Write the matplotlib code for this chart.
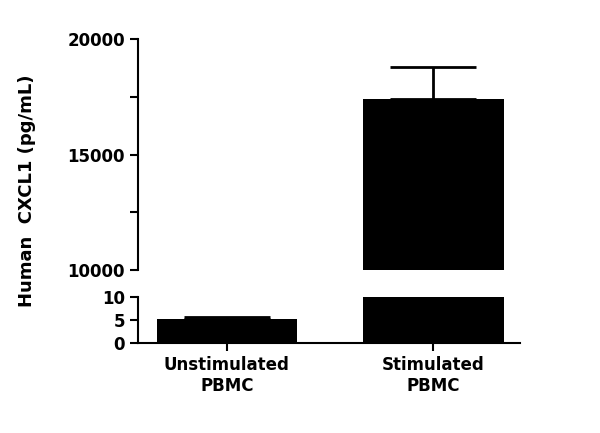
import matplotlib
matplotlib.use("Agg")
import matplotlib.pyplot as plt

categories = ["Unstimulated\nPBMC", "Stimulated\nPBMC"]
values = [5.3, 17400]
errors = [0.3, 1400]

fig = plt.figure(figsize=(6, 4.33), dpi=100)
left, width = 0.23, 0.637
ax_top = fig.add_axes([left, 0.376, width, 0.534])
ax_bot = fig.add_axes([left, 0.208, width, 0.106])
x = [0, 1]
for ax in (ax_top, ax_bot):
    ax.bar(x, values, width=0.68, color="black")
    ax.errorbar(x, values, yerr=[[0, 0], errors], fmt="none", ecolor="black",
                capsize=31, elinewidth=2, capthick=2)
    ax.set_xlim(-0.43, 1.42)
    for s in ("top", "right"):
        ax.spines[s].set_visible(False)
    ax.spines["left"].set_linewidth(1.5)
    ax.tick_params(axis="y", width=1.5, length=6, labelsize=12)
    for lab in ax.get_yticklabels():
        lab.set_fontweight("bold")

ax_top.set_ylim(10000, 20000)
ax_top.set_yticks([10000, 15000, 20000])
ax_top.set_yticks([12500, 17500], minor=True)
ax_top.tick_params(axis="y", which="minor", width=1.5, length=6)
ax_top.set_yticklabels(["10000", "15000", "20000"], fontweight="bold", fontsize=12)
ax_top.spines["bottom"].set_visible(False)
ax_top.set_xticks([])

ax_bot.set_ylim(0, 10)
ax_bot.set_yticks([0, 5, 10])
ax_bot.set_yticklabels(["0", "5", "10"], fontweight="bold", fontsize=12)
ax_bot.spines["bottom"].set_linewidth(1.5)
ax_bot.set_xticks(x)
ax_bot.set_xticklabels(categories, fontweight="bold", fontsize=12)
ax_bot.tick_params(axis="x", width=1.5, length=6)

fig.text(0.045, 0.56, "Human  CXCL1 (pg/mL)", rotation=90, va="center", ha="center",
         fontsize=13, fontweight="bold")
fig.savefig("out.png", dpi=100)
